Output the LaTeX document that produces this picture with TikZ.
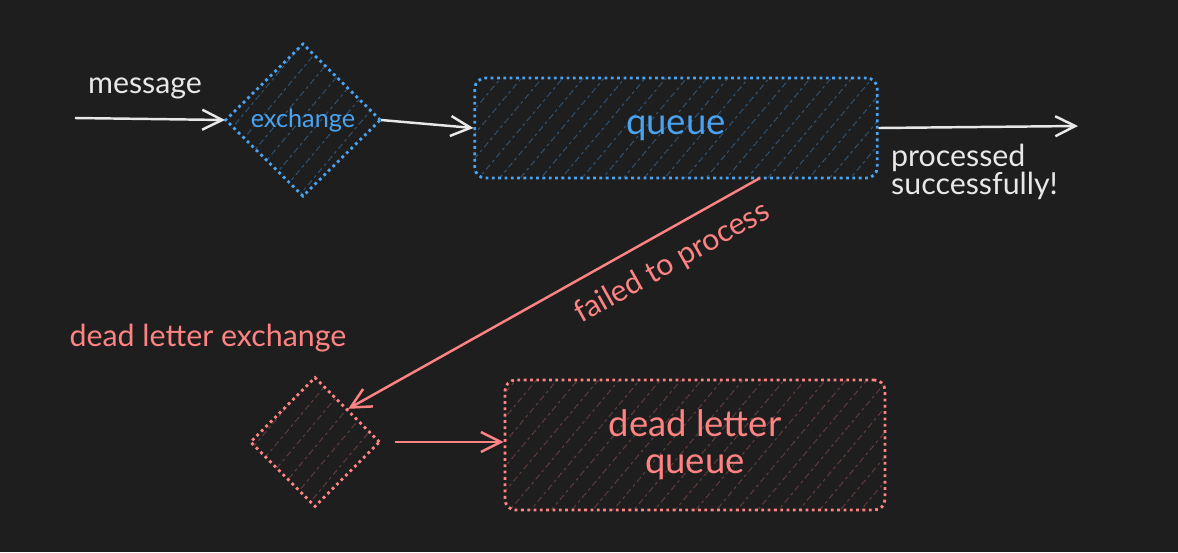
\documentclass[tikz,border=0pt]{standalone}
\usepackage{fontspec}
\setmainfont{Lato}
\usetikzlibrary{shapes.geometric, arrows.meta, patterns.meta, positioning}
\definecolor{bg}{HTML}{1E1E1E}
\definecolor{blu}{HTML}{4AA3F0}
\definecolor{red}{HTML}{FF8383}
\definecolor{wht}{HTML}{E8E8E8}
\tikzset{
	arrow/.style = {line width=1.4pt, -{Straight Barb[length=4mm,width=4mm]}},
	hatch/.style = {pattern={Lines[angle=50, distance=9pt, line width=0.6pt]}},
	box/.style = {rectangle, rounded corners=6pt, line width=1.6pt, dotted, hatch},
	gate/.style = {diamond, line width=1.6pt, dotted, hatch, inner sep=0pt},
}
\begin{document}
\begin{tikzpicture}[x=0.02cm, y=-0.02cm]
		\fill[bg] (0,0) rectangle (1178,552);
		\useasboundingbox (0,0) rectangle (1178,552);
		\node (Exchange) [gate, draw=blu, pattern color=blu!40!bg, minimum width=3.1cm, minimum height=3.05cm, text=blu] at (303,120) {\Large exchange};
		\node (Queue) [box, draw=blu, pattern color=blu!40!bg, minimum width=8.05cm, minimum height=2cm, text=blu] at (676,128) {\huge queue};
		\node (DLX) [gate, draw=red, pattern color=red!30!bg, minimum width=2.6cm, minimum height=2.6cm] at (315,442) {};
		\node (DLQ) [box, draw=red, pattern color=red!30!bg, minimum width=7.6cm, minimum height=2.6cm, text=red, align=center, font=\huge] at (695,445) {dead letter\\[-4pt]queue};
		\node (MsgLabel) [text=wht, font=\LARGE] at (145,88) {message};
		\coordinate (MsgIn) at (75,118);
		\coordinate (Done) at (1078,126);
		\node (DoneLabel) [text=wht, font=\LARGE, align=left, anchor=north west] at (885,138) {processed\\[-6pt]successfully!};
		\node (DLXLabel) [text=red, font=\LARGE] at (208,338) {dead letter exchange};
		\draw [arrow, wht] (MsgIn) -- (Exchange.west);
		\draw [arrow, wht] (Exchange.east) -- (Queue.west);
		\draw [arrow, wht] (Queue.east) -- (Done);
		\draw [arrow, red] (760,178) -- node[pos=0.25, sloped, below=6pt, font=\LARGE, text=red]{failed to process} (DLX.north east);
		\draw [arrow, red] (DLX.east) ++(14,0) -- (DLQ.west |- DLX.east);
	\end{tikzpicture}
\end{document}
